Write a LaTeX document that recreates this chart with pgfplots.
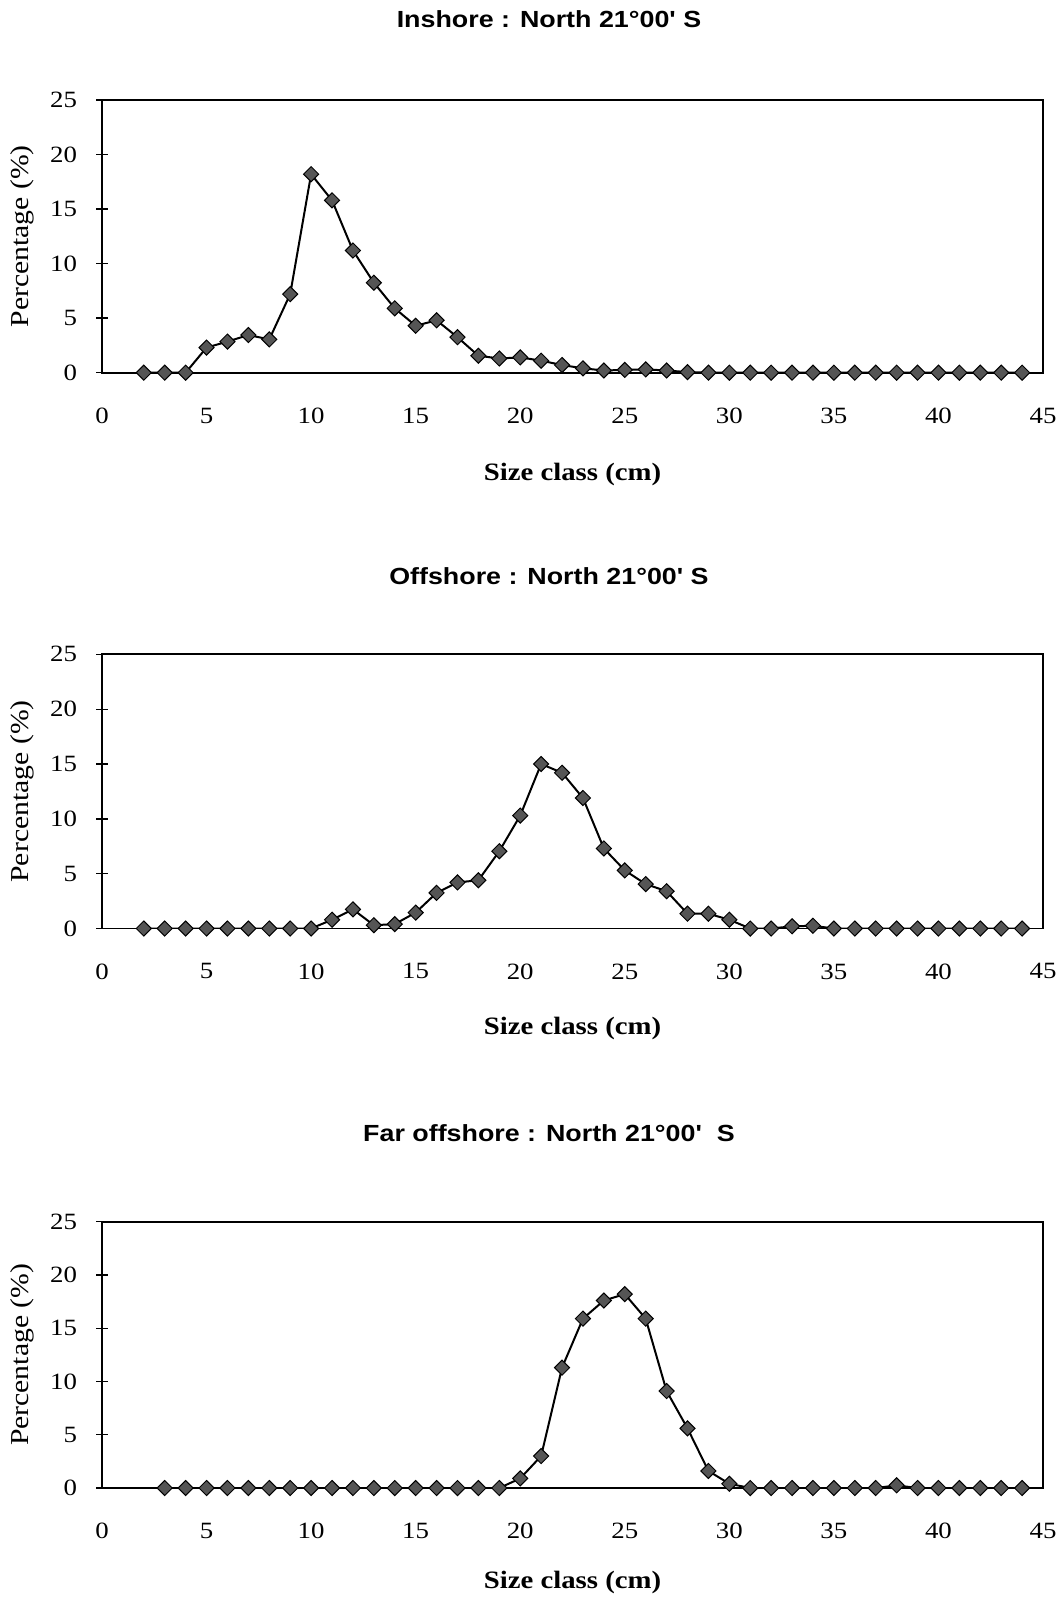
\documentclass[border=0pt]{standalone}
\usepackage{pgfplots}
\pgfplotsset{compat=1.18}
\usepackage{fontspec}
\setmainfont{Liberation Serif}[FakeStretch=1.15]
\newfontfamily\titlefont{Liberation Sans}[FakeStretch=1.15]
\definecolor{mk}{HTML}{555555}
\pgfplotsset{
  every axis/.append style={
    scale only axis, width=564.6pt,
    xmin=0, xmax=45, ymin=0, ymax=25,
    xtick={0,5,...,45}, ytick={0,5,...,25},
    ytick pos=left, xtick pos=bottom,
    /pgf/number format/assume math mode=true,
    tick label style={font=\fontsize{14}{16}\selectfont},
    xtick style={draw=none},
    ytick style={line width=0.8pt, black},
    tick align=center, major tick length=7pt,
    xticklabel style={yshift=-14pt},
    yticklabel style={xshift=-8pt},
    axis line style={line width=1.1pt},
    xlabel={Size class (cm)},
    ylabel={Percentage (\%)},
    xlabel style={font=\fontsize{15}{17}\selectfont\bfseries, at={(axis description cs:0.5,0)}, anchor=center},
    ylabel style={font=\fontsize{15.5}{17}\selectfont, at={(axis description cs:-0.0847,0.5)}, anchor=center},
    title style={font=\fontsize{14}{16}\selectfont\titlefont\bfseries, at={(axis description cs:0.475,1)}, anchor=center},
  },
  ser/.style={line width=1.2pt, black, mark=square*, mark size=3.2pt,
    mark options={rotate=45, fill=mk, draw=black, line width=0.6pt}},
}
\begin{document}
\begin{tikzpicture}
\useasboundingbox (-61.2pt,-734.6pt) rectangle (574.8pt,223.6pt);
% Plot 1
\begin{axis}[at={(0,0)}, anchor=south west, height=163.6pt,
  title={Inshore : North 21\textdegree00' S},
  title style={yshift=42.4pt}, xlabel style={yshift=-61pt}]
\addplot[ser] coordinates {
(2,0) (3,0) (4,0) (5,2.3) (6,2.85) (7,3.45) (8,3.05) (9,7.2) (10,18.2)
(11,15.8) (12,11.2) (13,8.25) (14,5.9) (15,4.3) (16,4.8) (17,3.25) (18,1.55)
(19,1.3) (20,1.4) (21,1.1) (22,0.7) (23,0.4) (24,0.2) (25,0.25) (26,0.3)
(27,0.2) (28,0.05) (29,0) (30,0) (31,0) (32,0) (33,0) (34,0) (35,0) (36,0)
(37,0) (38,0) (39,0) (40,0) (41,0) (42,0) (43,0) (44,0)};
\end{axis}
% Plot 2
\begin{axis}[at={(0,-333.5pt)}, anchor=south west, height=164.5pt,
  title={Offshore : North 21\textdegree00' S},
  title style={yshift=41pt}, xlabel style={yshift=-60pt}]
\addplot[ser] coordinates {
(2,0) (3,0) (4,0) (5,0) (6,0) (7,0) (8,0) (9,0) (10,0)
(11,0.8) (12,1.75) (13,0.3) (14,0.4) (15,1.45) (16,3.25) (17,4.2) (18,4.4)
(19,7.05) (20,10.3) (21,15.0) (22,14.2) (23,11.9) (24,7.3) (25,5.3) (26,4.05)
(27,3.4) (28,1.35) (29,1.35) (30,0.8) (31,0) (32,0) (33,0.2) (34,0.25) (35,0)
(36,0) (37,0) (38,0) (39,0) (40,0) (41,0) (42,0) (43,0) (44,0)};
\end{axis}
% Plot 3
\begin{axis}[at={(0,-669.2pt)}, anchor=south west, height=159.8pt,
  title={Far offshore : North 21\textdegree00'\ \ S},
  title style={yshift=47.2pt}, xlabel style={yshift=-56.6pt}]
\addplot[ser] coordinates {
(3,0) (4,0) (5,0) (6,0) (7,0) (8,0) (9,0) (10,0) (11,0) (12,0) (13,0)
(14,0) (15,0) (16,0) (17,0) (18,0) (19,0) (20,0.9) (21,3.0) (22,11.3)
(23,15.9) (24,17.6) (25,18.2) (26,15.9) (27,9.1) (28,5.6) (29,1.6) (30,0.4)
(31,0) (32,0) (33,0) (34,0) (35,0) (36,0) (37,0) (38,0.25) (39,0) (40,0)
(41,0) (42,0) (43,0) (44,0)};
\end{axis}
\end{tikzpicture}
\end{document}
